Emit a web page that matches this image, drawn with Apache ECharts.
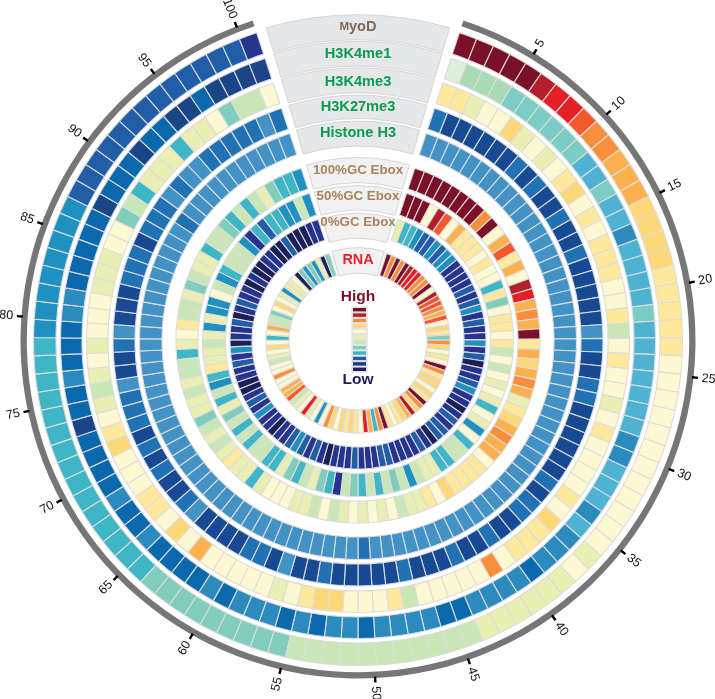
<!DOCTYPE html>
<html><head><meta charset="utf-8">
<style>html,body{margin:0;padding:0;background:#fff}#c{width:715px;height:699px}</style>
<script src="https://cdn.jsdelivr.net/npm/echarts@6/dist/echarts.min.js"></script>
</head><body><div id="c"></div>
<script>
const levelColors=['#7b1128','#b41f2a','#e41f26','#f4592d','#f98f3c','#fdb14e','#fed876','#fee89c','#fdf8d1','#e9efb2','#c9e6b6','#80cdbb','#3fb6c5','#1e91c0','#225ea8','#26348f','#1c2059','#dff0da','#a8dab5','#7bccc4','#4eb3d3','#2c8bbe','#0a69ac','#1a4586','#4292c6','#2171b5','#174a92'];
const tickLabels=[5,10,15,20,25,30,35,40,45,50,55,60,65,70,75,80,85,90,95,100];
const legendLevels=[0,1,4,6,8,9,10,11,12,14,15,16];
const myoD=[0,0,0,0,0,1,2,2,3,4, 4,5,5,5,6,6,6,6,7,7, 7,7,7,8,8,8,8,8,8,8, 8,8,8,8,8,9,8,9,9,9, 9,9,9,10,10,10,10,10,10,10, 10,10,10,10,11,11,11,11,11,11, 11,11,11,12,12,12,12,12,12,12, 12,12,12,12,12,12,12,12,13,13, 13,13,13,13,13,13,14,14,14,14, 14,14,14,14,14,14,14,14,14,15];
const h3k4me1=[17,18,18,18,19,19,19,19,19,19, 20,20,19,20,20,21,20,20,20,20, 19,20,20,20,20,20,20,20,21,21, 20,20,20,21,20,21,21,21,22,21, 21,21,21,22,22,21,21,21,21,22, 21,21,22,21,22,21,21,21,22,21, 22,22,22,22,21,22,22,21,22,22, 22,22,23,22,22,21,22,22,22,21, 21,22,22,22,22,22,23,22,22,22, 23,22,22,23,23,22,23,23,23,23];
const h3k4me3=[7,7,9,8,8,6,9,8,9,8, 7,6,8,7,8,7,7,7,8,8, 7,10,8,7,8,8,9,8,7,8, 8,8,8,7,8,6,7,7,7,8, 4,8,8,8,8,8,10,7,8,8, 8,6,6,7,8,9,8,8,8,8, 8,5,8,6,8,7,7,8,8,8, 6,7,8,9,10,9,8,9,8,8, 8,9,9,9,8,8,11,10,12,9, 9,9,12,9,9,8,11,10,10,8];
const h3k27me3=[25,26,26,26,26,26,26,25,26,25, 26,26,25,26,26,25,26,26,26,26, 26,24,25,26,26,25,25,26,26,26, 26,26,26,25,26,25,25,26,26,25, 26,26,25,26,26,26,25,26,26,26, 26,26,25,26,26,24,26,25,25,26, 26,26,26,24,25,26,26,25,26,25, 26,25,25,25,24,26,26,25,24,26, 26,26,25,25,25,26,25,25,25,24, 25,24,24,25,25,25,25,25,24,25];
const histoneH3=[24,24,24,24,24,24,24,24,24,24, 24,24,24,24,24,24,24,24,24,24, 24,24,24,24,24,24,24,24,24,24, 24,24,24,24,24,24,24,24,24,24, 24,24,24,24,24,24,24,24,24,25, 24,24,24,24,24,24,24,24,24,24, 24,24,24,24,24,24,24,24,24,24, 24,24,24,24,24,24,24,24,24,24, 24,24,24,24,24,24,24,24,25,24, 24,24,24,24,24,24,24,24,24,24];
const gc100=[0,0,0,0,0,0,0,0,4,0, 8,5,3,7,5,8,1,2,5,4, 5,0,7,5,6,5,4,5,9,7, 6,5,4,5,5,8,7,7,7,7, 6,8,7,9,9,10,8,9,8,9, 8,9,10,8,10,9,9,8,8,8, 9,12,9,9,7,9,10,9,10,11, 9,9,10,9,10,10,12,9,8,7, 10,10,9,11,10,9,9,12,10,10, 11,12,10,12,10,9,11,12,12,13];
const gc50=[0,0,0,8,1,3,8,5,7,7, 7,8,7,8,8,12,7,11,8,7, 7,8,7,10,8,10,8,9,8,9, 12,8,9,13,8,12,10,10,12,12, 9,9,10,13,10,11,10,12,10,12, 11,10,15,12,11,9,10,12,11,9, 12,12,10,10,12,10,12,10,11,9, 12,10,13,12,7,9,9,10,9,13, 9,13,13,8,10,13,12,10,10,10, 13,15,12,14,12,12,13,13,10,13];
const gc0=[9,12,12,13,14,14,13,14,13,13, 15,15,15,15,14,15,14,13,15,14, 15,15,13,15,14,16,15,15,14,13, 15,15,16,15,14,15,14,14,16,15, 14,15,15,15,15,14,14,15,15,15, 14,15,15,15,16,15,14,15,14,13, 14,15,15,16,15,15,13,15,14,15, 16,16,15,15,14,15,13,16,15,15, 14,16,15,14,15,15,16,15,16,16, 15,15,16,16,14,16,16,16,15,15];
const rna=[0,4,0,4,0,1,2,2,4,4, 0,8,1,3,3,4,5,3,8,6, 7,11,4,6,8,7,8,0,4,7, 6,6,8,6,7,0,4,6,1,5, 6,7,8,7,0,4,12,5,2,8, 7,6,7,6,8,6,4,8,13,8, 9,2,8,9,10,3,5,5,8,8, 4,8,8,10,9,8,6,8,12,8, 5,10,10,11,8,6,8,9,13,9, 9,8,16,11,13,11,13,9,16,11];
const ringNames=['MyoD','H3K4me1','H3K4me3','H3K27me3','Histone H3','100%GC Ebox','50%GC Ebox','0%GC Ebox','RNA'];
const ringValues=[myoD,h3k4me1,h3k4me3,h3k27me3,histoneH3,gc100,gc50,gc0,rna];

// layout (not data)
const bands=[[302,324.5],[276,297.5],[250,271.5],[223,245],[196,218.5],[160,182],[132.5,155.5],[106,128],[69,92]];
const headBands=[[301.3,326.3],[274.7,299.7],[248,273],[222.3,245.7],[194.7,219.7],[158.3,183.3],[131,155.3],[102.7,127.7],[67.7,93.3]];
const headTextR=[313.8,287,259,233.7,208,170.3,145,118.3,80.7];
const headStyle=[['#e6e7e8','#7b6a5c',14.6],['#e6e7e8','#0b9b50',14.6],['#e6e7e8','#0b9b50',14.6],['#e6e7e8','#0b9b50',14.6],['#e6e7e8','#0b9b50',14.6],['#f1f1f1','#a9835a',13.3],['#f1f1f1','#a9835a',13.3],['#f1f1f1','#a9835a',13.3],['#f1f1f1','#e8202a',14.4]];
const CELL=323.6/100, GAPU=(360-323.6)/2/CELL, HEADU=16.3/CELL;
const FONT='"Liberation Sans",Arial,sans-serif';
const CX=358, CY=341;

function polarSector(api,params,r0,r1,a0,a1){
  const c=[params.coordSys.cx,params.coordSys.cy];
  const p0=api.coord([r1,a0]), p1=api.coord([r1,a1]), q=api.coord([r0,a0]);
  return {cx:c[0],cy:c[1],r0:Math.hypot(q[0]-c[0],q[1]-c[1]),r:Math.hypot(p0[0]-c[0],p0[1]-c[1]),
    startAngle:Math.atan2(p0[1]-c[1],p0[0]-c[0]),endAngle:Math.atan2(p1[1]-c[1],p1[0]-c[0]),clockwise:true};
}
const cellData=[];
ringValues.forEach((vals,ring)=>vals.forEach((v,i)=>cellData.push([ring,i,v])));

const option={
  animation:false,
  backgroundColor:'#fff',
  polar:{center:[CX,CY],radius:360},
  radiusAxis:{type:'value',min:0,max:360,show:false},
  angleAxis:{type:'value',min:-GAPU,max:100+GAPU,startAngle:90,clockwise:true,show:false},
  grid:{left:352,top:307,width:15,height:65,show:true,backgroundColor:'#e4e4e4',borderColor:'#d6d6d6',borderWidth:1},
  xAxis:{type:'value',min:0,max:1,show:false},
  yAxis:{type:'category',inverse:true,show:false,data:legendLevels.map(String)},
  graphic:[
    {type:'text',x:358,y:297,style:{text:'High',x:0,y:0,align:'center',verticalAlign:'middle',font:'bold 15.5px '+FONT,fill:'#7b1128'}},
    {type:'text',x:358,y:380,style:{text:'Low',x:0,y:0,align:'center',verticalAlign:'middle',font:'bold 15.5px '+FONT,fill:'#1c2059'}}
  ],
  series:[
    {type:'custom',coordinateSystem:'polar',data:[[0,100]],silent:true,
     renderItem(params,api){
       return {type:'sector',shape:polarSector(api,params,331.2,337.5,api.value(0),api.value(1)),style:{fill:'#767676'}};
     }},
    {type:'custom',coordinateSystem:'polar',data:tickLabels.map(t=>[t]),silent:true,
     renderItem(params,api){
       const t=api.value(0), a=t-1+0.1;
       const p0=api.coord([336,a]), p1=api.coord([342,a]);
       const s=String(t), r=345.5+3.6*s.length, pt=api.coord([r,a]);
       const deg=(a+GAPU)*CELL;
       const rot=deg<=180?deg-90:deg-270;
       return {type:'group',children:[
         {type:'line',shape:{x1:p0[0],y1:p0[1],x2:p1[0],y2:p1[1]},style:{stroke:'#000',lineWidth:2.4}},
         {type:'text',x:pt[0],y:pt[1],rotation:-rot*Math.PI/180,style:{text:s,x:0,y:0,align:'center',verticalAlign:'middle',font:'12.5px '+FONT,fill:'#111'}}
       ]};
     }},
    {type:'custom',coordinateSystem:'polar',data:cellData,silent:true,
     renderItem(params,api){
       const b=bands[api.value(0)], i=api.value(1);
       return {type:'sector',shape:polarSector(api,params,b[0],b[1],i,i+1),
         style:{fill:levelColors[api.value(2)],stroke:'#dcdcdc',lineWidth:1.1}};
     }},
    {type:'custom',coordinateSystem:'polar',data:ringNames.map((n,i)=>[i]),silent:true,
     renderItem(params,api){
       const i=api.value(0), b=headBands[i], h=headStyle[i];
       const mid=api.coord([headTextR[i],-GAPU]);
       const isMyoD=ringNames[i]==='MyoD';
       return {type:'group',children:[
         {type:'sector',shape:polarSector(api,params,b[0],b[1],-GAPU-HEADU,-GAPU+HEADU),style:{fill:h[0],stroke:'#d6d6d6',lineWidth:1}},
         {type:'text',x:mid[0],y:mid[1],style:{
           text:isMyoD?'{s|M}{n|yoD}':ringNames[i],x:0,y:0,align:'center',verticalAlign:'middle',
           font:'bold '+h[2]+'px '+FONT,fill:h[1],
           rich:isMyoD?{s:{fontSize:11.5,fontWeight:'bold',fontFamily:FONT,fill:h[1]},n:{fontSize:14.6,fontWeight:'bold',fontFamily:FONT,fill:h[1]}}:undefined}}
       ]};
     }},
    {type:'bar',silent:true,barCategoryGap:0,barWidth:'100%',xAxisIndex:0,yAxisIndex:0,
     data:legendLevels.map(l=>({value:1,itemStyle:{color:levelColors[l],borderColor:'#e4e4e4',borderWidth:1}}))}
  ]
};
const chart=echarts.init(document.getElementById('c'),null,{renderer:'canvas',width:715,height:699});
chart.setOption(option);
</script></body></html>
